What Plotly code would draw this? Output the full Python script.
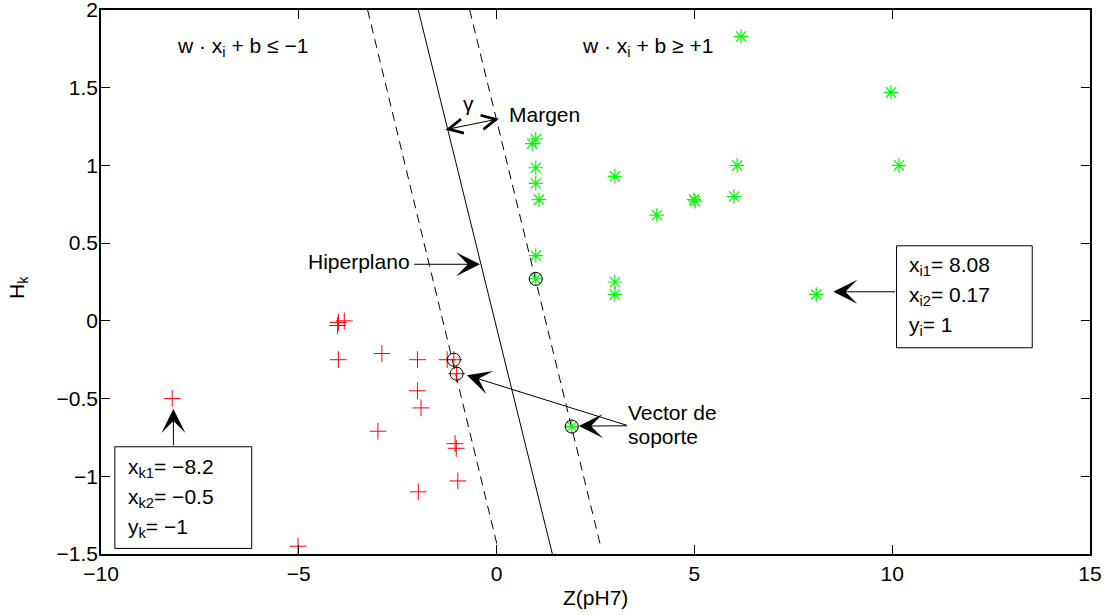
import plotly.graph_objects as go

# Class -1 samples (red +)
neg_x = [-8.2, -4.02, -4.0, -3.85, -4.0, -2.9, -2.0, -1.25, -1.08, -1.01, -2.0,
         -1.91, -3.0, -1.05, -1.02, -0.98, -1.98, -5.02, -4.97]
neg_y = [-0.5, -0.03, -0.01, 0.0, -0.25, -0.21, -0.25, -0.25, -0.25, -0.34, -0.45,
         -0.56, -0.71, -0.79, -0.82, -1.03, -1.10, -1.45, -1.51]

# Class +1 samples (green *)
pos_x = [6.18, 9.97, 10.17, 6.08, 6.0, 4.99, 5.02, 4.05, 2.99, 2.99, 2.99, 0.99,
         0.9, 0.99, 0.99, 1.07, 0.99, 0.99, 1.9, 8.08]
pos_y = [1.83, 1.47, 1.0, 1.0, 0.80, 0.78, 0.77, 0.68, 0.93, 0.25, 0.17, 1.17,
         1.14, 0.985, 0.885, 0.78, 0.42, 0.27, -0.68, 0.17]

# Support vectors (circled)
sv_x = [-1.08, -1.01, 0.99, 1.9]
sv_y = [-0.25, -0.34, 0.27, -0.68]

# Separating hyperplane and the two margin lines
hyper_x = [-1.98, 1.41]
hyper_y = [2.0, -1.5]
margin_neg_x = [-3.26, 0.02]
margin_neg_y = [2.0, -1.45]
margin_pos_x = [-0.68, 2.63]
margin_pos_y = [2.0, -1.45]

# Axis ticks
x_ticks = [-10, -5, 0, 5, 10, 15]
x_tick_text = ["\u221210", "\u22125", "0", "5", "10", "15"]
y_ticks = [-1.5, -1, -0.5, 0, 0.5, 1, 1.5, 2]
y_tick_text = ["\u22121.5", "\u22121", "\u22120.5", "0", "0.5", "1", "1.5", "2"]

# Highlighted samples shown in the info boxes
neg_sample = (-8.2, -0.5)
pos_sample = (8.08, 0.17)

FONT = "Liberation Sans, Arial, Helvetica, sans-serif"
FS = 21

fig = go.Figure()

fig.add_trace(go.Scatter(x=hyper_x, y=hyper_y, mode="lines",
                         line=dict(color="black", width=1), hoverinfo="skip"))
fig.add_trace(go.Scatter(x=margin_neg_x, y=margin_neg_y, mode="lines",
                         line=dict(color="black", width=1, dash="9px,6px"),
                         hoverinfo="skip"))
fig.add_trace(go.Scatter(x=margin_pos_x, y=margin_pos_y, mode="lines",
                         line=dict(color="black", width=1, dash="9px,6px"),
                         hoverinfo="skip"))

fig.add_trace(go.Scatter(x=neg_x, y=neg_y, mode="markers", cliponaxis=False,
                         marker=dict(symbol="cross-thin-open", size=12,
                                     color="#ff0000",
                                     line=dict(color="#ff0000", width=1))))
fig.add_trace(go.Scatter(x=pos_x, y=pos_y, mode="markers", cliponaxis=False,
                         marker=dict(symbol="asterisk-open", size=12,
                                     color="#00ff00",
                                     line=dict(color="#00ff00", width=1.2))))
fig.add_trace(go.Scatter(x=sv_x, y=sv_y, mode="markers", cliponaxis=False,
                         marker=dict(symbol="circle-open", size=13,
                                     color="black",
                                     line=dict(color="black", width=1))))

ann = []


def text(x, y, s, xanchor="left", yanchor="middle"):
    ann.append(dict(x=x, y=y, xref="x", yref="y", text=s, showarrow=False,
                    xanchor=xanchor, yanchor=yanchor,
                    font=dict(family=FONT, size=FS, color="black")))


def arrow(x0, y0, x1, y1, head=3, size=4.0, both=False):
    ann.append(dict(x=x1, y=y1, ax=x0, ay=y0, xref="x", yref="y",
                    axref="x", ayref="y", text="", showarrow=True,
                    arrowhead=head, arrowsize=size, arrowwidth=1,
                    startarrowhead=head, startarrowsize=size,
                    arrowside="end+start" if both else "end",
                    arrowcolor="black"))


# Region labels
text(-8.13, 1.76, "w \u00b7 x<sub>i</sub> + b \u2264 \u22121")
text(2.11, 1.76, "w \u00b7 x<sub>i</sub> + b \u2265 +1")

# Margin width
text(-0.72, 1.40, "\u03b3", xanchor="center")
arrow(-1.33, 1.228, 0.06, 1.30, head=5, size=2.8, both=True)
text(0.26, 1.33, "Margen")

# Hyperplane label
text(-2.14, 0.383, "Hiperplano", xanchor="right")
arrow(-2.12, 0.364, -0.42, 0.364)

# Support vector label
text(3.27, -0.59, "Vector de")
text(3.27, -0.745, "soporte")
arrow(3.33, -0.675, -0.75, -0.35)
arrow(3.33, -0.675, 2.08, -0.677)

# Info box for the class -1 sample
fig.add_shape(type="rect", x0=-9.65, x1=-6.19, y0=-1.464, y1=-0.81,
              xref="x", yref="y", line=dict(color="black", width=1),
              fillcolor="white", layer="above")
arrow(neg_sample[0] + 0.03, -0.81, neg_sample[0] + 0.03, -0.567)
text(-9.37, -0.945, "x<sub>k1</sub>= \u2212%g" % abs(neg_sample[0]))
text(-9.37, -1.138, "x<sub>k2</sub>= \u2212%g" % abs(neg_sample[1]))
text(-9.37, -1.331, "y<sub>k</sub>= \u22121")

# Info box for the class +1 sample
fig.add_shape(type="rect", x0=10.11, x1=13.54, y0=-0.173, y1=0.483,
              xref="x", yref="y", line=dict(color="black", width=1),
              fillcolor="white", layer="above")
arrow(10.11, 0.187, 8.51, 0.187)
text(10.37, 0.353, "x<sub>i1</sub>= %.2f" % pos_sample[0])
text(10.37, 0.160, "x<sub>i2</sub>= %.2f" % pos_sample[1])
text(10.37, -0.033, "y<sub>i</sub>= 1")

# Axis titles
ann.append(dict(x=(595 - 101) / 989, y=(554 - 597) / 544, xref="paper",
                yref="paper", text="Z(pH7)", showarrow=False,
                xanchor="center", yanchor="middle",
                font=dict(family=FONT, size=FS, color="black")))
ann.append(dict(x=(18 - 101) / 989, y=(554 - 288) / 544, xref="paper",
                yref="paper", text="H<sub>k</sub>", showarrow=False,
                textangle=-90, xanchor="center", yanchor="middle",
                font=dict(family=FONT, size=FS, color="black")))

axis_common = dict(showgrid=False, zeroline=False, showline=True,
                   linecolor="black", linewidth=1.5, mirror="ticks",
                   ticks="inside", ticklen=9, tickwidth=1, tickcolor="black",
                   automargin=False, ticklabeloverflow="allow",
                   tickfont=dict(family=FONT, size=FS, color="black"))

fig.update_layout(
    width=1108, height=615,
    margin=dict(l=101, r=18, t=10, b=61),
    paper_bgcolor="white", plot_bgcolor="white",
    showlegend=False,
    annotations=ann,
    xaxis=dict(range=[-10, 15], tickvals=x_ticks, ticktext=x_tick_text,
               ticklabelstandoff=0, **axis_common),
    yaxis=dict(range=[-1.5, 2], tickvals=y_ticks, ticktext=y_tick_text,
               ticklabelstandoff=-3, **axis_common),
)

fig.write_html("out.html")
